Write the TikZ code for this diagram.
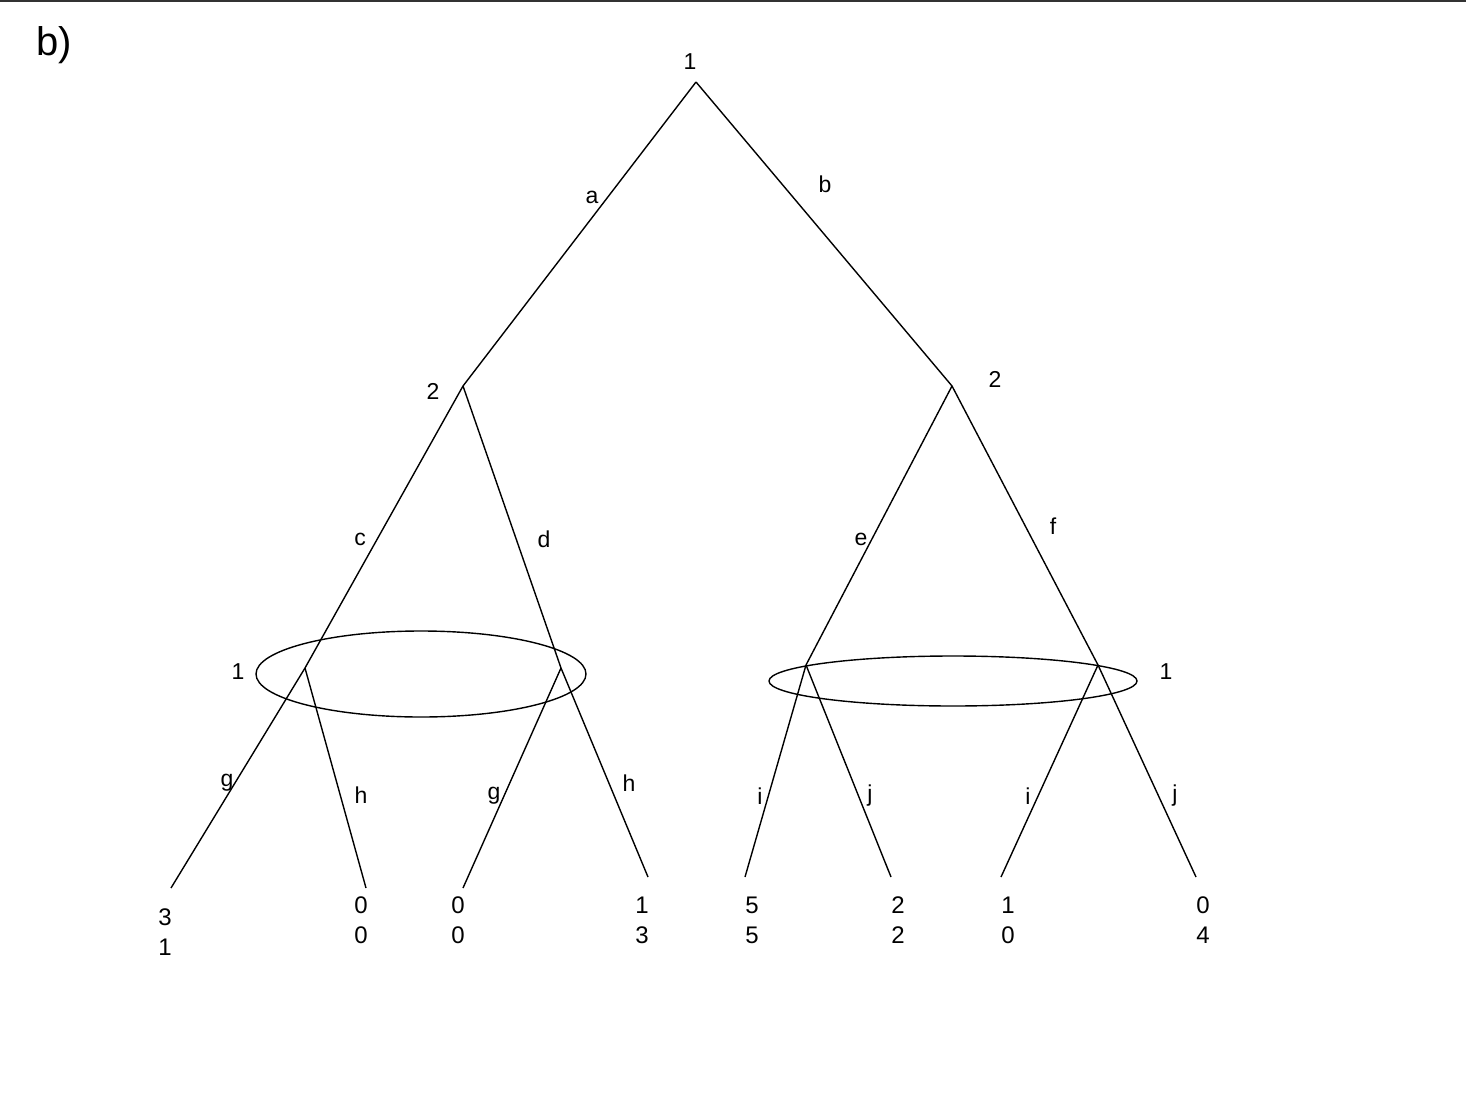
\documentclass[tikz,border=0pt]{standalone}
\usepackage{fontspec}
\setmainfont{Liberation Sans}
\begin{document}
\begin{tikzpicture}[x=1pt,y=-1pt,
  edge/.style={line width=1.4pt, black},
  lbl/.style={font=\fontsize{23}{27}\selectfont, inner sep=0pt},
  pay/.style={font=\fontsize{24}{30}\selectfont, inner sep=0pt, align=center},
  infoset/.style={line width=1.4pt, black}]
\useasboundingbox (0,0) rectangle (1466,1094);
\draw[line width=2pt, black!80] (0,1) -- (1466,1);
\node[font=\fontsize{40}{44}\selectfont, inner sep=0pt] (title) at (54,45) {b)};
% vertices
\coordinate (r) at (696,82);
\coordinate (A) at (463,386);
\coordinate (B) at (952,386);
\coordinate (C) at (305,668);
\coordinate (D) at (561,668);
\coordinate (E) at (806,665);
\coordinate (F) at (1098,665);
\coordinate (l1) at (171,888);
\coordinate (l2) at (366,888);
\coordinate (l3) at (463,888);
\coordinate (l4) at (648,877);
\coordinate (l5) at (745,877);
\coordinate (l6) at (891,877);
\coordinate (l7) at (1001,877);
\coordinate (l8) at (1196,877);
% edges
\draw[edge] (r) -- (A);
\draw[edge] (r) -- (B);
\draw[edge] (A) -- (C);
\draw[edge] (A) -- (D);
\draw[edge] (B) -- (E);
\draw[edge] (B) -- (F);
\draw[edge] (C) -- (l1);
\draw[edge] (C) -- (l2);
\draw[edge] (D) -- (l3);
\draw[edge] (D) -- (l4);
\draw[edge] (E) -- (l5);
\draw[edge] (E) -- (l6);
\draw[edge] (F) -- (l7);
\draw[edge] (F) -- (l8);
% information sets
\draw[infoset] (421,674) ellipse [x radius=165, y radius=43];
\draw[infoset] (953,681) ellipse [x radius=184, y radius=25];
% player labels
\node[lbl] (p0) at (690,62) {1};
\node[lbl] (p1) at (433,391) {2};
\node[lbl] (p2) at (995,379) {2};
\node[lbl] (p3) at (238,672) {1};
\node[lbl] (p4) at (1166,672) {1};
% action labels
\node[lbl] (ea) at (592,197) {a};
\node[lbl] (eb) at (825,184) {b};
\node[lbl] (ec) at (360,539) {c};
\node[lbl] (ed) at (544,539) {d};
\node[lbl] (ee) at (861,539) {e};
\node[lbl] (ef) at (1053,526) {f};
\node[lbl] (eg1) at (227,783) {g};
\node[lbl] (eh1) at (361,795) {h};
\node[lbl] (eg2) at (494,796) {g};
\node[lbl] (eh2) at (629,783) {h};
\node[lbl] (ei1) at (760,796) {i};
\node[lbl] (ej1) at (870,796) {j};
\node[lbl] (ei2) at (1028,796) {i};
\node[lbl] (ej2) at (1175,796) {j};
% payoffs
\node[pay] (v1) at (165,932) {3\\1};
\node[pay] (v2) at (361,920) {0\\0};
\node[pay] (v3) at (458,920) {0\\0};
\node[pay] (v4) at (642,920) {1\\3};
\node[pay] (v5) at (752,920) {5\\5};
\node[pay] (v6) at (898,920) {2\\2};
\node[pay] (v7) at (1008,920) {1\\0};
\node[pay] (v8) at (1203,920) {0\\4};
\end{tikzpicture}
\end{document}
